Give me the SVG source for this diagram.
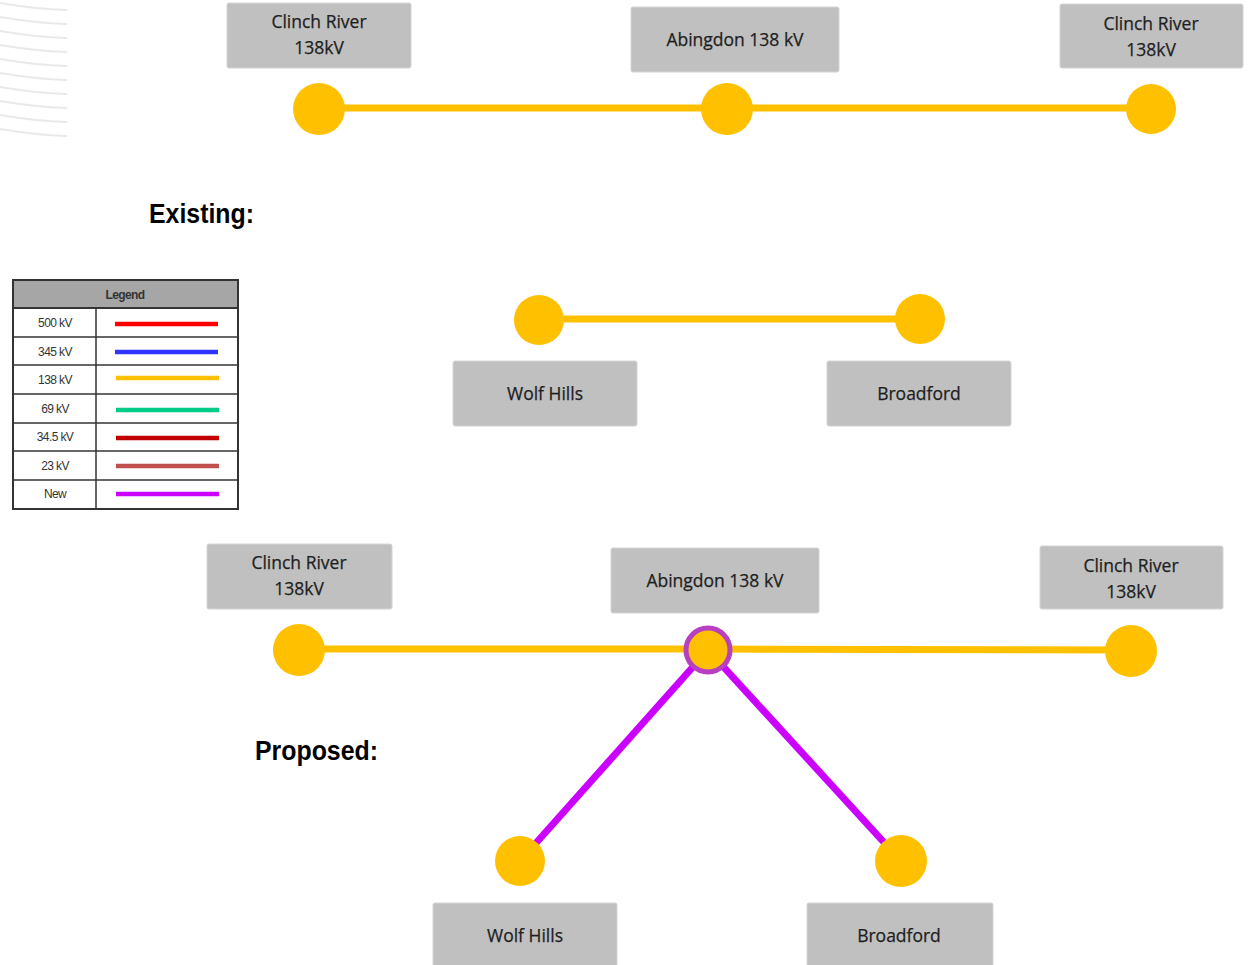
<svg xmlns="http://www.w3.org/2000/svg" width="1248" height="965" viewBox="0 0 1248 965">
<style>
.box{fill:#c0c0c0;stroke:#d4d4d4;stroke-width:1}
.bt{font-family:"Open Sans","DejaVu Sans",sans-serif;font-size:17.5px;fill:#1e1e1e;text-anchor:middle;stroke:#1e1e1e;stroke-width:0.25}
.bus{fill:#ffc000}
.l138{stroke:#ffc000;stroke-width:7;fill:none}
.lnew{stroke:#cc00ff;stroke-width:7;fill:none}
.hd{font-family:"Liberation Sans",Arial,sans-serif;font-weight:bold;font-size:27px;fill:#000}
.lt{font-family:"Liberation Sans",Arial,sans-serif;font-size:12px;fill:#333;text-anchor:middle;letter-spacing:-0.6px}
.arc{stroke:#e9e9e9;stroke-width:2;fill:none}
</style>
<rect width="1248" height="965" fill="#fff"/>
<g id="decor">
<path class="arc" d="M0,3 Q35,9 67,10"/>
<path class="arc" d="M0,17 Q35,23 67,24"/>
<path class="arc" d="M0,31 Q35,37 67,38"/>
<path class="arc" d="M0,45 Q35,51 67,52"/>
<path class="arc" d="M0,59 Q35,65 67,66"/>
<path class="arc" d="M0,73 Q35,79 67,80"/>
<path class="arc" d="M0,87 Q35,93 67,94"/>
<path class="arc" d="M0,101 Q35,107 67,108"/>
<path class="arc" d="M0,115 Q35,121 67,122"/>
<path class="arc" d="M0,129 Q35,135 67,136"/>
</g>
<g id="connectors">
<line class="l138" x1="319" y1="108" x2="727" y2="108"/>
<line class="l138" x1="727" y1="108" x2="1151" y2="108"/>
<line class="l138" x1="539" y1="319" x2="920" y2="319"/>
<line class="l138" x1="299" y1="649" x2="708" y2="649"/>
<line class="l138" x1="708" y1="649" x2="1131" y2="650"/>
<line class="lnew" x1="708" y1="650" x2="520" y2="861"/>
<line class="lnew" x1="708" y1="650" x2="901" y2="861"/>
</g>
<g id="existing-label"><text class="hd" x="149" y="223" textLength="105" lengthAdjust="spacingAndGlyphs">Existing:</text></g>
<g id="proposed-label"><text class="hd" x="255" y="760" textLength="123" lengthAdjust="spacingAndGlyphs">Proposed:</text></g>
<g id="ex-clinch-left">
<rect class="box" x="227" y="3" width="184" height="65" rx="2"/>
<text class="bt" x="319" y="28">Clinch River</text>
<text class="bt" x="319" y="54">138kV</text>
<circle class="bus" cx="319" cy="109" r="26"/>
</g>
<g id="ex-abingdon">
<rect class="box" x="631" y="7" width="208" height="65" rx="2"/>
<text class="bt" x="735" y="46">Abingdon 138 kV</text>
<circle class="bus" cx="727" cy="109" r="26"/>
</g>
<g id="ex-clinch-right">
<rect class="box" x="1060" y="4" width="183" height="64" rx="2"/>
<text class="bt" x="1151" y="30">Clinch River</text>
<text class="bt" x="1151" y="56">138kV</text>
<circle class="bus" cx="1151" cy="109" r="25"/>
</g>
<g id="ex-wolfhills">
<circle class="bus" cx="539" cy="320" r="25"/>
<rect class="box" x="453" y="361" width="184" height="65" rx="2"/>
<text class="bt" x="545" y="400">Wolf Hills</text>
</g>
<g id="ex-broadford">
<circle class="bus" cx="920" cy="319" r="25"/>
<rect class="box" x="827" y="361" width="184" height="65" rx="2"/>
<text class="bt" x="919" y="400">Broadford</text>
</g>
<g id="legend">
<rect x="13" y="280" width="225" height="229" fill="#fff" stroke="#333" stroke-width="2"/>
<rect x="13" y="280" width="225" height="28" fill="#a6a6a6" stroke="#333" stroke-width="2"/>
<text class="lt" x="125" y="299" font-weight="bold">Legend</text>
<g stroke="#333" stroke-width="1.5">
<line x1="96" y1="308" x2="96" y2="509"/>
<line x1="13" y1="337" x2="238" y2="337"/>
<line x1="13" y1="365" x2="238" y2="365"/>
<line x1="13" y1="394" x2="238" y2="394"/>
<line x1="13" y1="423" x2="238" y2="423"/>
<line x1="13" y1="451" x2="238" y2="451"/>
<line x1="13" y1="480" x2="238" y2="480"/>
</g>
<text class="lt" x="55" y="327">500 kV</text>
<text class="lt" x="55" y="356">345 kV</text>
<text class="lt" x="55" y="384">138 kV</text>
<text class="lt" x="55" y="413">69 kV</text>
<text class="lt" x="55" y="441">34.5 kV</text>
<text class="lt" x="55" y="470">23 kV</text>
<text class="lt" x="55" y="498">New</text>
<g stroke-width="4.5">
<line x1="115" y1="324" x2="218" y2="324" stroke="#ff0000"/>
<line x1="115" y1="352" x2="218" y2="352" stroke="#3333ff"/>
<line x1="116" y1="378" x2="219" y2="378" stroke="#ffc000"/>
<line x1="116" y1="410" x2="219" y2="410" stroke="#00cc88"/>
<line x1="116" y1="438" x2="219" y2="438" stroke="#c00000"/>
<line x1="116" y1="466" x2="219" y2="466" stroke="#c0504d"/>
<line x1="116" y1="494" x2="219" y2="494" stroke="#cc00ff"/>
</g>
</g>
<g id="pr-clinch-left">
<rect class="box" x="207" y="544" width="185" height="65" rx="2"/>
<text class="bt" x="299" y="569">Clinch River</text>
<text class="bt" x="299" y="595">138kV</text>
<circle class="bus" cx="299" cy="650" r="26"/>
</g>
<g id="pr-abingdon">
<rect class="box" x="611" y="548" width="208" height="65" rx="2"/>
<text class="bt" x="715" y="587">Abingdon 138 kV</text>
<circle cx="708" cy="650" r="22" fill="#ffc000" stroke="#b83fc0" stroke-width="5"/>
</g>
<g id="pr-clinch-right">
<rect class="box" x="1040" y="546" width="183" height="63" rx="2"/>
<text class="bt" x="1131" y="572">Clinch River</text>
<text class="bt" x="1131" y="598">138kV</text>
<circle class="bus" cx="1131" cy="651" r="26"/>
</g>
<g id="pr-wolfhills">
<circle class="bus" cx="520" cy="861" r="25"/>
<rect class="box" x="433" y="903" width="184" height="70" rx="2"/>
<text class="bt" x="525" y="942">Wolf Hills</text>
</g>
<g id="pr-broadford">
<circle class="bus" cx="901" cy="861" r="26"/>
<rect class="box" x="807" y="903" width="186" height="70" rx="2"/>
<text class="bt" x="899" y="942">Broadford</text>
</g>
</svg>
